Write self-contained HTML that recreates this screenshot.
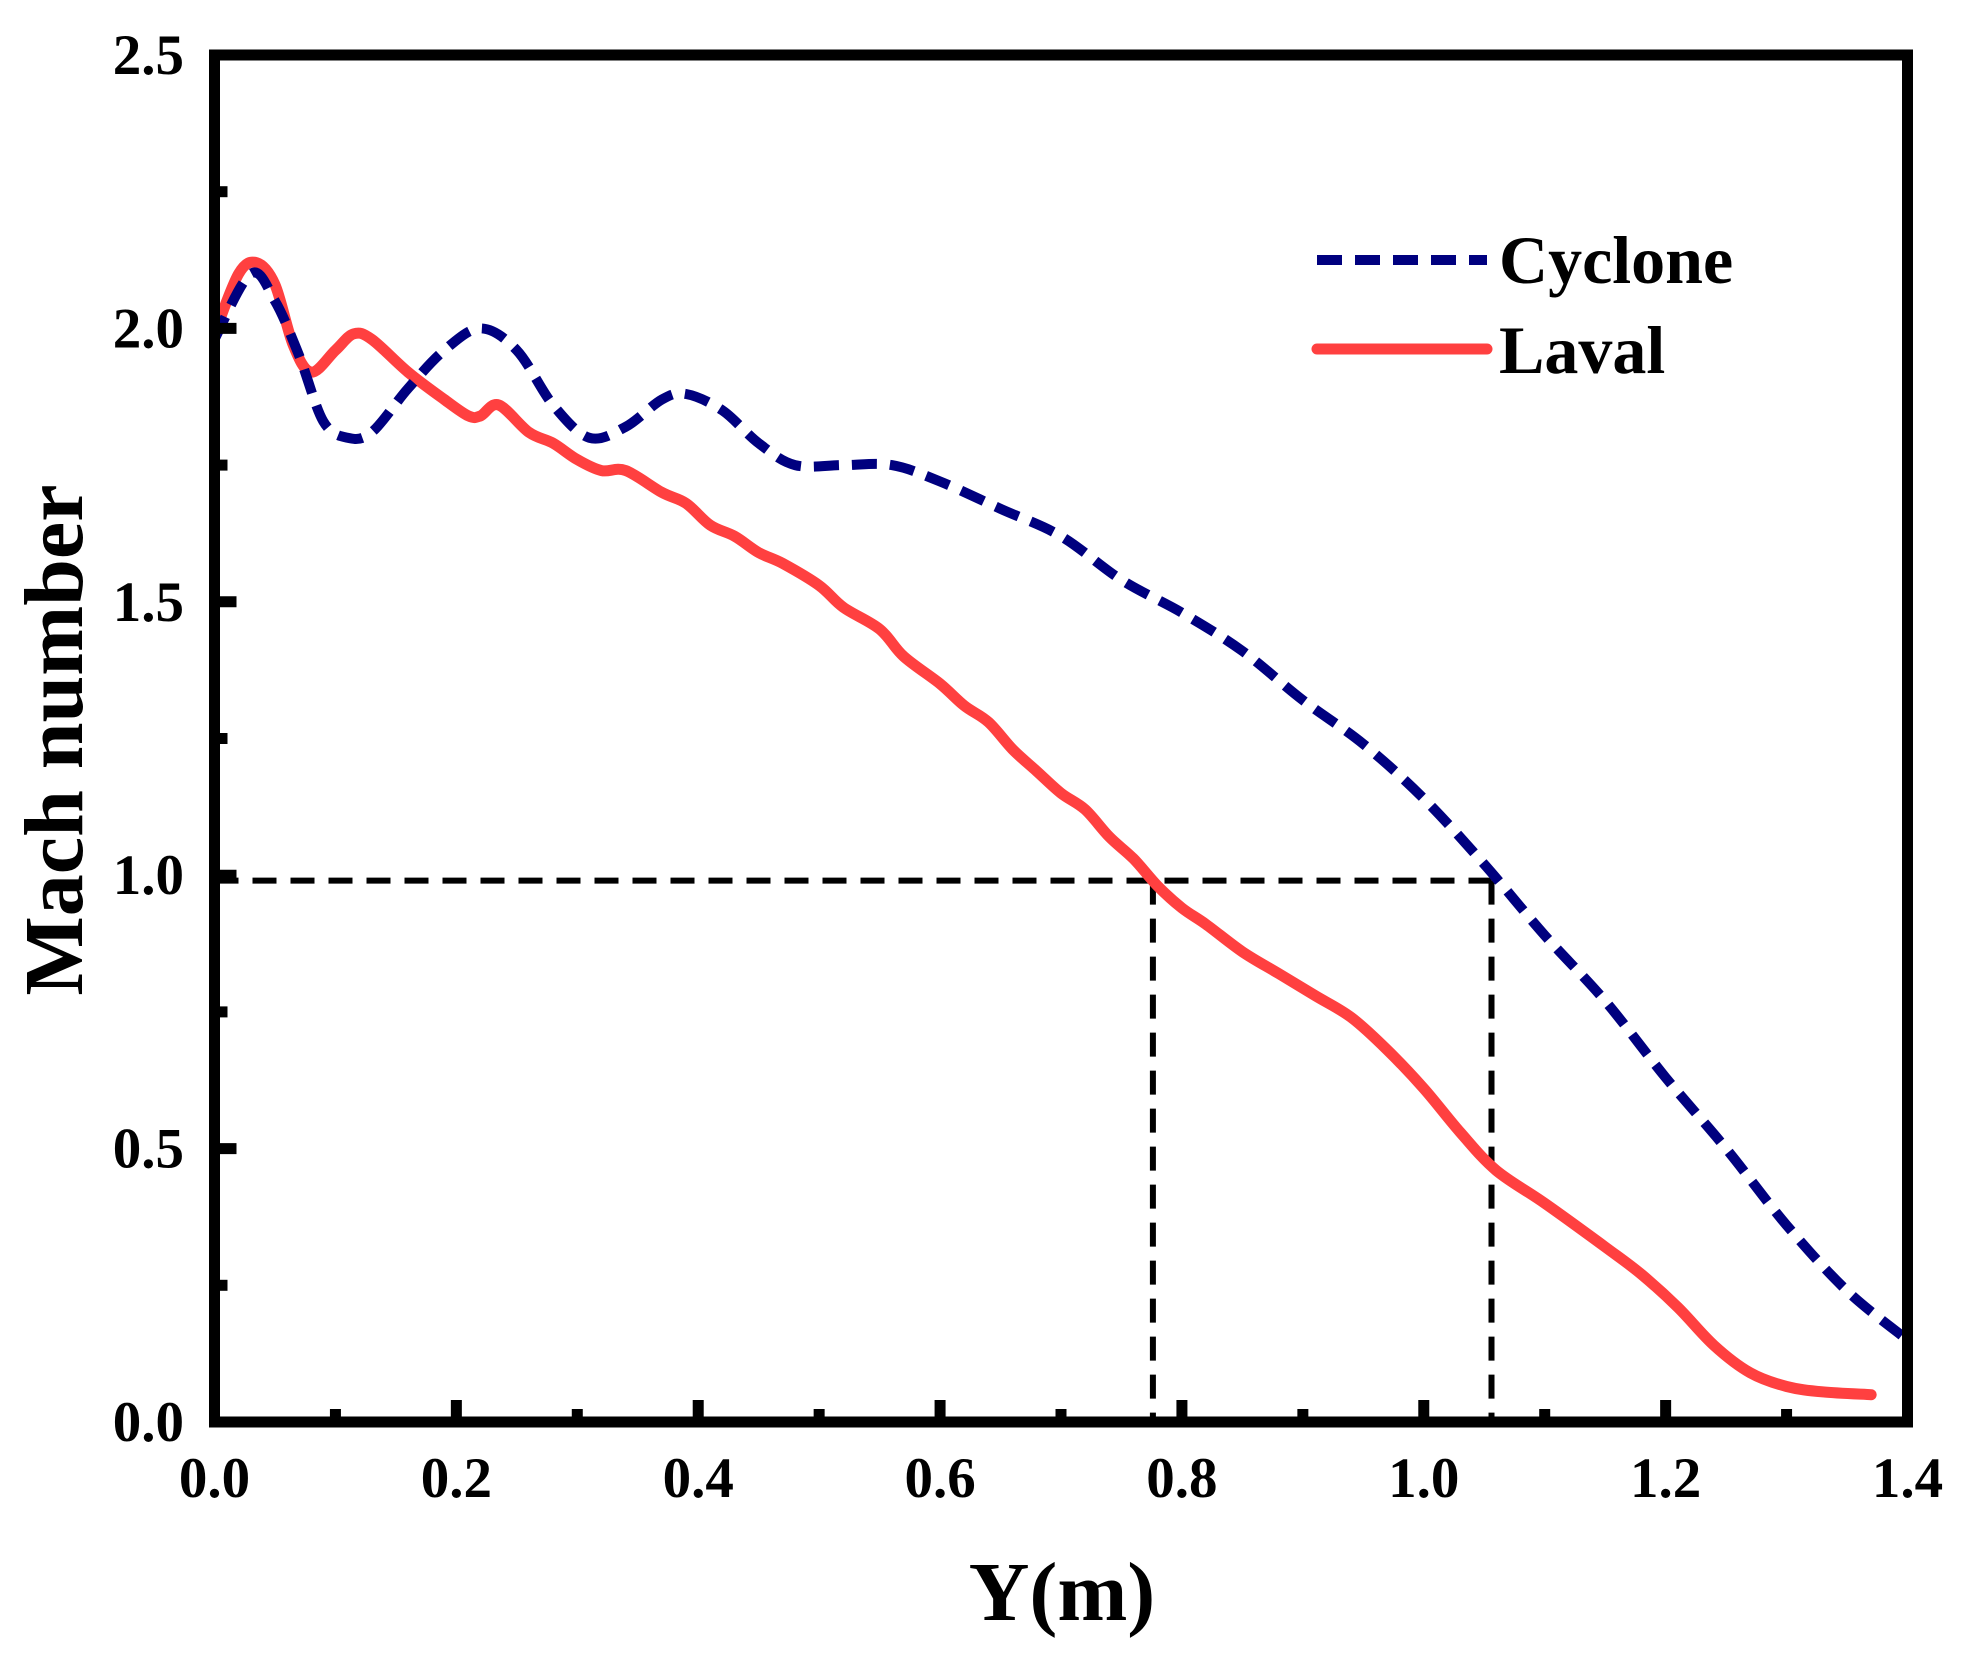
<!DOCTYPE html>
<html><head><meta charset="utf-8"><style>
html,body{margin:0;padding:0;background:#fff}
svg{display:block}
text{font-family:"Liberation Serif",serif;font-weight:bold;fill:#000}
</style></head><body>
<svg id="chart" width="1967" height="1656" viewBox="0 0 1967 1656" xmlns="http://www.w3.org/2000/svg">
<g id="plot"></g>
</svg>
<script>
const xTicks=[0.0,0.2,0.4,0.6,0.8,1.0,1.2,1.4];
const yTicks=[0.0,0.5,1.0,1.5,2.0,2.5];
const cycX=[0,0.03,0.05,0.07,0.09,0.11,0.13,0.16,0.19,0.22,0.25,0.28,0.31,0.34,0.37,0.39,0.42,0.45,0.48,0.52,0.56,0.6,0.65,0.7,0.75,0.8,0.85,0.9,0.95,1.0,1.05,1.1,1.15,1.2,1.25,1.3,1.35,1.4];
const cycY=[1.98,2.10,2.05,1.95,1.83,1.80,1.81,1.89,1.96,2.00,1.96,1.86,1.80,1.82,1.87,1.88,1.85,1.79,1.75,1.75,1.75,1.72,1.67,1.62,1.54,1.48,1.41,1.32,1.24,1.14,1.02,0.89,0.77,0.63,0.50,0.36,0.24,0.15];
const lavX=[0,0.02,0.035,0.05,0.065,0.08,0.1,0.115,0.13,0.16,0.19,0.21,0.22,0.235,0.26,0.28,0.3,0.32,0.34,0.37,0.39,0.41,0.43,0.45,0.47,0.5,0.52,0.55,0.57,0.6,0.62,0.64,0.66,0.68,0.7,0.72,0.74,0.76,0.78,0.8,0.82,0.85,0.88,0.91,0.94,0.97,1.0,1.03,1.06,1.1,1.15,1.18,1.21,1.24,1.27,1.3,1.33,1.37];
const lavY=[1.99,2.10,2.12,2.08,1.97,1.92,1.96,1.99,1.98,1.92,1.87,1.84,1.84,1.86,1.81,1.79,1.76,1.74,1.74,1.70,1.68,1.64,1.62,1.59,1.57,1.53,1.49,1.45,1.40,1.35,1.31,1.28,1.23,1.19,1.15,1.12,1.07,1.03,0.98,0.94,0.91,0.86,0.82,0.78,0.74,0.68,0.61,0.53,0.46,0.40,0.32,0.27,0.21,0.14,0.09,0.065,0.055,0.05];
const refY=[0.99];
const refX=[0.776,1.056];

const L=214.5,R=1907.5,T=55,B=1422;
const sx=v=>L+(v-0)/(1.4-0)*(R-L);
const sy=v=>B-(v-0)/(2.5-0)*(B-T);
const NS='http://www.w3.org/2000/svg';
const g=document.getElementById('plot');
function mk(tag,attrs){const e=document.createElementNS(NS,tag);for(const k in attrs)e.setAttribute(k,attrs[k]);g.appendChild(e);return e;}

const h=mk('line',{x1:sx(0),x2:sx(refX[1]),y1:sy(refY[0]),y2:sy(refY[0]),stroke:'#000','stroke-width':6,'stroke-dasharray':'24 14'});


refX.forEach((xv,i)=>{
  const v=mk('line',{x1:sx(xv),x2:sx(xv),y1:sy(refY[0]),y2:sy(0),stroke:'#000','stroke-width':6,'stroke-dasharray':'24 14'});
  
  
});

function path(xs,ys){
  const p=xs.map((x,i)=>[sx(x),sy(ys[i])]);
  let d='M'+p[0][0].toFixed(1)+','+p[0][1].toFixed(1);
  for(let i=0;i<p.length-1;i++){
    const p0=p[i-1]||p[i],p1=p[i],p2=p[i+1],p3=p[i+2]||p2;
    const c1x=p1[0]+(p2[0]-p0[0])/6,c1y=p1[1]+(p2[1]-p0[1])/6;
    const c2x=p2[0]-(p3[0]-p1[0])/6,c2y=p2[1]-(p3[1]-p1[1])/6;
    d+=' C'+c1x.toFixed(1)+','+c1y.toFixed(1)+' '+c2x.toFixed(1)+','+c2y.toFixed(1)+' '+p2[0].toFixed(1)+','+p2[1].toFixed(1);
  }
  return d;
}
const lav=mk('path',{d:path(lavX,lavY),fill:'none',stroke:'#ff4040','stroke-width':11,'stroke-linejoin':'round','stroke-linecap':'round'});


const cyc=mk('path',{d:path(cycX,cycY),fill:'none',stroke:'#00007f','stroke-width':10,'stroke-dasharray':'25 13','stroke-linejoin':'round'});



const fr=mk('rect',{x:L,y:T,width:R-L,height:B-T,fill:'none',stroke:'#000','stroke-width':11});



xTicks.forEach((t,i)=>{
  const tk=mk('line',{x1:sx(t),x2:sx(t),y1:B,y2:B-22,stroke:'#000','stroke-width':11});
  
  
  if(i<xTicks.length-1){
    const m=mk('line',{x1:sx(t+0.1),x2:sx(t+0.1),y1:B,y2:B-13,stroke:'#000','stroke-width':11});
    
    
  }
  const lb=mk('text',{x:sx(t),y:1497,'text-anchor':'middle','font-size':57});
  lb.textContent=t.toFixed(1);
  
  
});
yTicks.forEach((t,i)=>{
  const tk=mk('line',{x1:L,x2:L+22,y1:sy(t),y2:sy(t),stroke:'#000','stroke-width':11});
  
  
  if(i<yTicks.length-1){
    const m=mk('line',{x1:L,x2:L+13,y1:sy(t+0.25),y2:sy(t+0.25),stroke:'#000','stroke-width':11});
    
    
  }
  const lb=mk('text',{x:184,y:sy(t)+19,'text-anchor':'end','font-size':57});
  lb.textContent=t.toFixed(1);
  
  
});

const xt=mk('text',{x:1062,y:1620,'text-anchor':'middle','font-size':84});
xt.textContent='Y(m)';


const yt=mk('text',{x:0,y:0,'text-anchor':'middle','font-size':84,transform:'translate(82,740) rotate(-90)'});
yt.textContent='Mach number';



const l1=mk('line',{x1:1317,x2:1487,y1:260,y2:260,stroke:'#00007f','stroke-width':10,'stroke-dasharray':'25 13'});


const t1=mk('text',{x:1499,y:283,'font-size':68});
t1.textContent='Cyclone';


const l2=mk('line',{x1:1317,x2:1487,y1:349,y2:349,stroke:'#ff4040','stroke-width':11,'stroke-linecap':'round'});


const t2=mk('text',{x:1499,y:373,'font-size':68});
t2.textContent='Laval';


</script>
</body></html>
